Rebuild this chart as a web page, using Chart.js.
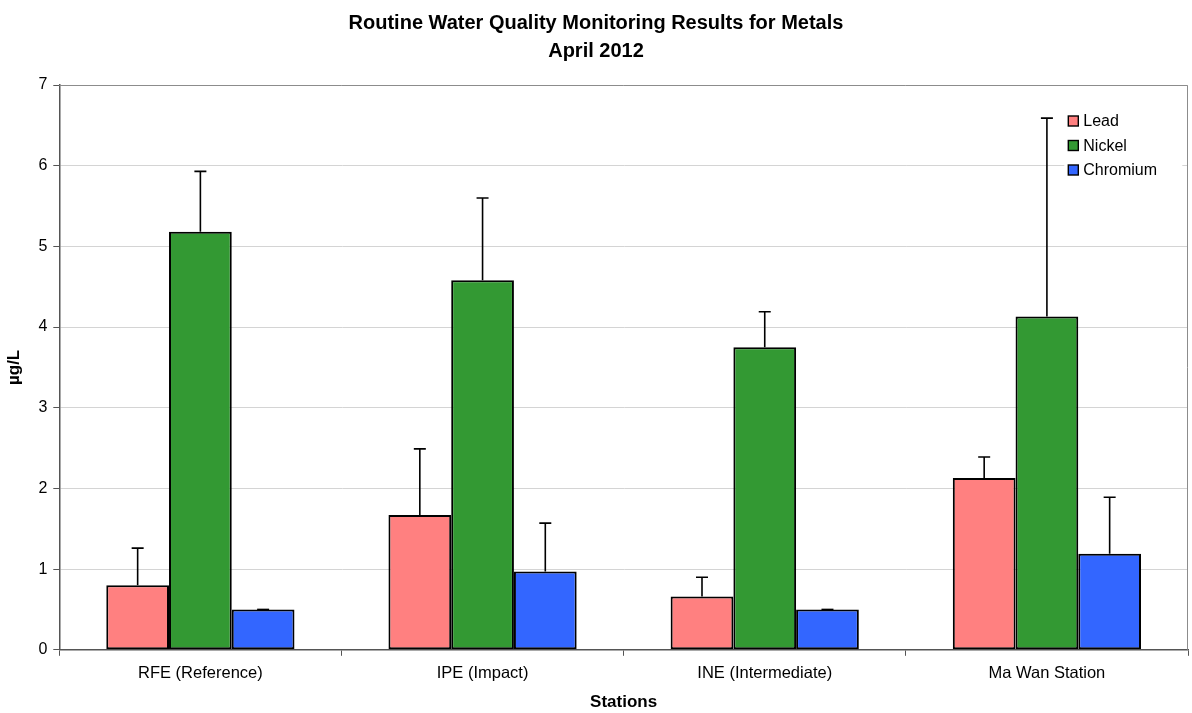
<!DOCTYPE html>
<html>
<head>
<meta charset="utf-8">
<script src="https://cdn.jsdelivr.net/npm/chart.js@4/dist/chart.umd.min.js"></script>
<style>
  html, body { margin: 0; padding: 0; background: #fff; }
  #wrap { width: 1192px; height: 713px; position: relative; }
</style>
</head>
<body>
<div id="wrap"><canvas id="metalsChart"></canvas></div>
<script>
// 측정소 / 값
const stations = ['RFE (Reference)', 'IPE (Impact)', 'INE (Intermediate)', 'Ma Wan Station'];
const leadMean = [0.80, 1.67, 0.66, 2.13];
const leadUpper = [1.26, 2.49, 0.90, 2.39];
const nickelMean = [5.18, 4.58, 3.75, 4.13];
const nickelUpper = [5.93, 5.60, 4.19, 6.59];
const chromiumMean = [0.50, 0.97, 0.50, 1.19];
const chromiumUpper = [0.50, 1.57, 0.50, 1.89];
const yTicks = [0, 1, 2, 3, 4, 5, 6, 7];

const errorUpper = [leadUpper, nickelUpper, chromiumUpper];
const FONT = '"Liberation Sans", Arial, sans-serif';

// 오차막대 (위쪽만)
const errorBarPlugin = {
    id: 'errorBars',
    afterDatasetsDraw(chart) {
        const ctx = chart.ctx;
        const yScale = chart.scales.y;
        ctx.save();
        ctx.strokeStyle = '#000';
        ctx.lineWidth = 1.6;
        chart.data.datasets.forEach((ds, i) => {
            const meta = chart.getDatasetMeta(i);
            meta.data.forEach((bar, j) => {
                const yTop = yScale.getPixelForValue(errorUpper[i][j]);
                const yBase = bar.y;
                ctx.beginPath();
                ctx.moveTo(bar.x, yBase);
                ctx.lineTo(bar.x, yTop);
                ctx.moveTo(bar.x - 6, yTop);
                ctx.lineTo(bar.x + 6, yTop);
                ctx.stroke();
            });
        });
        ctx.restore();
    }
};

// 플롯 테두리 + 범례 (차트 영역 안쪽)
const frameLegendPlugin = {
    id: 'frameLegend',
    beforeDatasetsDraw(chart) {
        const a = chart.chartArea;
        const ctx = chart.ctx;
        ctx.save();
        ctx.strokeStyle = '#8c8c8c';
        ctx.lineWidth = 1;
        ctx.beginPath();
        ctx.moveTo(a.left, a.top + 0.5);
        ctx.lineTo(a.right - 0.5, a.top + 0.5);
        ctx.lineTo(a.right - 0.5, a.bottom);
        ctx.stroke();
        ctx.restore();
    },
    afterDatasetsDraw(chart) {
        const a = chart.chartArea;
        const ctx = chart.ctx;
        const x0 = a.left + 1009;
        const y0 = a.top + 36;
        ctx.save();
        ctx.fillStyle = '#fff';
        ctx.fillRect(x0 - 4, y0 - 14, 118, 74);
        ctx.font = '16px ' + FONT;
        ctx.textBaseline = 'middle';
        chart.data.datasets.forEach((ds, i) => {
            const y = y0 + i * 24.5;
            ctx.fillStyle = ds.backgroundColor;
            ctx.fillRect(x0, y - 5, 10, 10);
            ctx.strokeStyle = '#000';
            ctx.lineWidth = 1.4;
            ctx.strokeRect(x0, y - 5, 10, 10);
            ctx.fillStyle = '#000';
            ctx.fillText(ds.label, x0 + 15, y + 1);
        });
        ctx.restore();
    }
};

const ctx = document.getElementById('metalsChart').getContext('2d');
new Chart(ctx, {
    type: 'bar',
    data: {
        labels: stations,
        datasets: [
            { label: 'Lead', data: leadMean, backgroundColor: '#FF8080' },
            { label: 'Nickel', data: nickelMean, backgroundColor: '#339933' },
            { label: 'Chromium', data: chromiumMean, backgroundColor: '#3366FF' }
        ].map(d => ({
            ...d,
            borderColor: '#000',
            borderWidth: 2,
            borderSkipped: false,
            categoryPercentage: 0.667,
            barPercentage: 1.0
        }))
    },
    options: {
        responsive: true,
        maintainAspectRatio: false,
        animation: false,
        layout: { padding: { left: 4, right: 4, top: 0, bottom: 0 } },
        plugins: {
            legend: { display: false },
            tooltip: { enabled: false },
            title: {
                display: true,
                text: ['Routine Water Quality Monitoring Results for Metals', 'April 2012'],
                color: '#000',
                font: { family: FONT, size: 20, weight: 'bold', lineHeight: 1.4 },
                padding: { top: 9, bottom: 20 }
            }
        },
        scales: {
            x: {
                grid: {
                    display: true,
                    offset: true,
                    drawOnChartArea: false,
                    drawTicks: true,
                    tickLength: 6,
                    color: '#555'
                },
                border: { color: '#555', width: 1.5 },
                ticks: {
                    color: '#000',
                    padding: 8,
                    font: { family: FONT, size: 16.5 }
                },
                title: {
                    display: true,
                    text: 'Stations',
                    color: '#000',
                    padding: { top: 1, bottom: 0 },
                    font: { family: FONT, size: 17, weight: 'bold' }
                }
            },
            y: {
                min: 0,
                max: 7,
                afterBuildTicks(axis) {
                    axis.ticks = yTicks.map(v => ({ value: v }));
                },
                grid: {
                    color: '#d4d4d4',
                    tickColor: '#555',
                    tickLength: 6
                },
                border: { color: '#555', width: 1.5 },
                ticks: {
                    color: '#000',
                    padding: 6,
                    font: { family: FONT, size: 16 }
                },
                title: {
                    display: true,
                    text: 'µg/L',
                    color: '#000',
                    padding: { top: 0, bottom: 8 },
                    font: { family: FONT, size: 17, weight: 'bold' }
                }
            }
        }
    },
    plugins: [frameLegendPlugin, errorBarPlugin]
});
</script>
</body>
</html>
